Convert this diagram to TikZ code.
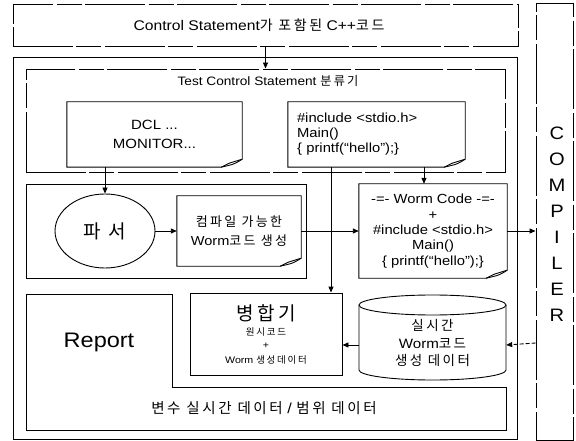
\documentclass[tikz,border=0pt]{standalone}
\usepackage{fontspec}
\setmainfont{Liberation Sans}[FakeStretch=1.12]
\newfontfamily\krf{Noto Sans CJK KR}[Scale=1.0,LetterSpace=18]
\newcommand{\kr}[1]{{\krf #1}}
\usetikzlibrary{arrows.meta,shapes.geometric}
\newcommand{\fs}[1]{\fontsize{#1}{#1}\selectfont}
\newcommand{\foldpath}[1]{%
  \draw[ln] (#1.north west) -- (#1.north east) -- ([yshift=8pt]#1.south east)
    .. controls ([xshift=-8pt,yshift=3pt]#1.south east) .. ([xshift=-21pt]#1.south east)
    -- (#1.south west) -- cycle;
  \draw[ln] ([yshift=8pt]#1.south east) -- ([xshift=-13pt,yshift=4pt]#1.south east)
    -- ([xshift=-21pt]#1.south east);}
\begin{document}
\begin{tikzpicture}[x=1pt,y=-1pt,
  ln/.style={line width=0.9pt},
  frame/.style={draw, ln, inner sep=0pt},
  loose/.style={dash pattern=on 60pt off 3pt on 25pt off 4pt},
  plain/.style={inner sep=0pt},
  arr/.style={ln, -{Triangle[length=6pt,width=5pt]}}]
\useasboundingbox (0,0) rectangle (576,441);
% outer frames
\node[frame, loose, minimum width=505pt, minimum height=42pt] (top) at (265.5,25) {};
\node[plain, font=\fs{14}] (toptxt) at (259,25) {Control Statement\kr{가 포함된} C++\kr{코드}};
\node[frame, minimum width=504pt, minimum height=382pt] (main) at (265,248) {};
\node[frame, loose, minimum width=37pt, minimum height=437pt] (comp) at (554.5,221.5) {};
\node[plain, align=center, font=\fontsize{18}{26}\selectfont] (complbl) at (557,224) {C\\O\\M\\P\\I\\L\\E\\R};
% classifier frame
\node[frame, loose, minimum width=479pt, minimum height=103pt] (frame1) at (265.5,120.5) {};
\node[plain, font=\fs{12.2}] (title1) at (268,81) {Test Control Statement \kr{분류기}};
\node[plain, minimum width=175pt, minimum height=65pt, align=center, font=\fontsize{13.4}{19}\selectfont] (dcl) at (154.5,134.5) {DCL ...\\MONITOR...};
\foldpath{dcl}
\node[plain, minimum width=177pt, minimum height=65pt, text width=159pt, align=left, font=\fontsize{13.2}{15}\selectfont] (inc) at (376.5,134.5) {\#include <stdio.h>\\Main()\\\{ printf(“hello”);\}};
\foldpath{inc}
% parser frame
\node[frame, minimum width=280pt, minimum height=94pt] (frame2) at (166,231) {};
\node[draw, ln, ellipse, minimum width=100pt, minimum height=74pt, inner sep=0pt, font=\fs{19}] (parser) at (105,231) {\kr{파 서}};
\node[plain, minimum width=124pt, minimum height=70pt, align=center, font=\fontsize{13}{19}\selectfont] (cmp) at (239,231) {\kr{컴파일 가능한}\\Worm\kr{코드 생성}};
\foldpath{cmp}
\node[plain, minimum width=148pt, minimum height=94pt, align=center, font=\fontsize{13.2}{15.3}\selectfont] (worm) at (433,231) {-=- Worm Code -=-\\+\\\#include <stdio.h>\\Main()\\\{ printf(“hello”);\}};
\foldpath{worm}
% lower part
\draw[ln] (26,294) -- (172,294) -- (172,387) -- (506,387) -- (506,430) -- (26,430) -- cycle;
\node[plain, font=\fs{21}] (report) at (99,342) {Report};
\node[plain, font=\fs{14.5}] (vars) at (264,408) {\kr{변수 실시간 데이터} / \kr{범위 데이터}};
\node[frame, minimum width=152pt, minimum height=82pt, align=center] (merge) at (266,334)
  {{\fs{19}\kr{병합기}}\\[3pt]{\fs{9.5}\kr{원시코드}}\\[1pt]{\fs{9.5}+}\\[3pt]{\fs{9.5}Worm \kr{생성데이터}}};
\node[plain, minimum width=147pt, minimum height=85pt, align=center, font=\fontsize{13.5}{17.5}\selectfont] (cyl) at (432.5,343) {\kr{실시간}\\Worm\kr{코드}\\\kr{생성 데이터}};
\draw[ln] (359,305) -- (359,370) arc[start angle=180, end angle=360, x radius=73.5pt, y radius=10pt] -- (506,305);
\draw[ln] (432.5,305) ellipse[x radius=73.5pt, y radius=10pt];
% connectors
\draw[arr] (top.south) -- (frame1.north);
\draw[arr] (parser.north |- dcl.south) -- (parser.north);
\draw[arr] (parser.east) -- (cmp.west);
\draw[arr] (cmp.east) -- (worm.west);
\draw[arr] (worm.east) -- (comp.west |- worm.east);
\draw[arr] ([xshift=47.5pt]inc.south) -- ([xshift=47.5pt]inc.south |- worm.north);
\draw[arr] ([xshift=-45.5pt]inc.south) -- ([xshift=-45.5pt]inc.south |- merge.north);
\draw[arr] ([yshift=-2pt]cyl.west) -- ([yshift=-2pt]cyl.west -| merge.east);
\draw[arr, dash pattern=on 4pt off 2pt] (comp.west |- cyl.east) -- ([yshift=-2pt]cyl.east);
\end{tikzpicture}
\end{document}
